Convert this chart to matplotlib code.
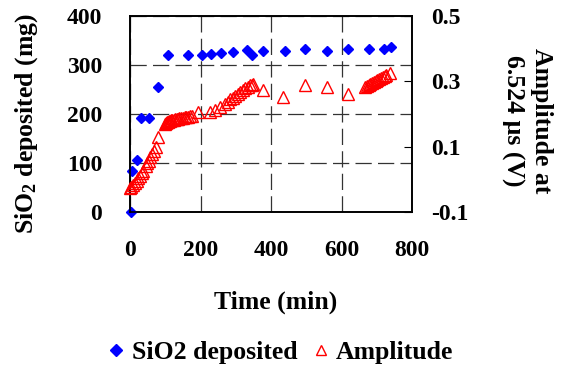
import matplotlib
matplotlib.use('Agg')
import matplotlib.pyplot as plt
from matplotlib.lines import Line2D

plt.rcParams['font.family'] = ['Liberation Serif', 'DejaVu Serif']
plt.rcParams['font.weight'] = 'bold'
plt.rcParams['mathtext.fontset'] = 'custom'
plt.rcParams['mathtext.rm'] = 'Liberation Serif:bold'
plt.rcParams['mathtext.it'] = 'Liberation Serif:bold'

# SiO2 deposited (left axis)
t_sio2 = [2, 6, 19, 31, 53, 79, 107, 164, 203, 230, 258, 291, 331, 347, 378,
          441, 496, 560, 619, 679, 721, 740]
sio2 = [0, 84, 106, 192, 192, 256, 321, 321, 321, 322, 325, 327, 330, 320, 329,
        329, 332, 328, 332, 332, 332, 336]

# Amplitude at 6.524 us (right axis)
t_amp = [0, 4, 9, 14, 19, 24, 28, 33, 38, 44, 49, 54, 58, 63, 68, 73, 80,
         99, 102, 105, 108, 111, 114, 117, 120, 124, 128, 132, 136, 140, 145,
         150, 155, 160, 165, 170, 175,
         194, 227, 241, 255, 270, 278, 285, 292, 299, 306, 313, 320, 327, 334,
         340, 345, 350,
         378, 435, 496, 560, 619,
         667, 672, 677, 682, 687, 692, 697, 702, 707, 712, 717, 722, 727, 738]
amp = [-0.027, -0.022, -0.017, -0.011, -0.005, 0.003, 0.011, 0.018, 0.026,
       0.042, 0.050, 0.057, 0.067, 0.078, 0.088, 0.098, 0.129,
       0.170, 0.172, 0.174, 0.176, 0.178, 0.180, 0.181, 0.182, 0.183, 0.184,
       0.185, 0.186, 0.187, 0.188, 0.189, 0.190, 0.191, 0.192, 0.193, 0.195,
       0.205, 0.207, 0.213, 0.221, 0.231, 0.238, 0.245, 0.250, 0.256, 0.262,
       0.268, 0.274, 0.279, 0.284, 0.288, 0.289, 0.291,
       0.272, 0.252, 0.288, 0.282, 0.262,
       0.282, 0.286, 0.290, 0.293, 0.296, 0.299, 0.302, 0.305, 0.308, 0.311,
       0.314, 0.317, 0.319, 0.327]

x_ticks = [0, 200, 400, 600, 800]
left_ticks = [0, 100, 200, 300, 400]
right_ticks = [-0.1, 0.1, 0.3, 0.5]

TICK_FS = 17
LABEL_FS = 18.5

fig = plt.figure(figsize=(5.62, 3.67), dpi=100)
ax = fig.add_axes([130 / 562, 1 - 212 / 367, 282 / 562, 196 / 367])
ax2 = ax.twinx()

ax.set_xlim(0, 800)
ax.set_ylim(0, 400)
ax.set_xticks(x_ticks)
ax.set_yticks(left_ticks)
ax.grid(True, color='#333333', linestyle=(0, (13, 5)), linewidth=0.9)
ax.tick_params(axis='both', length=0, labelsize=TICK_FS)
ax.tick_params(axis='y', pad=20)
ax.tick_params(axis='x', pad=20)

ax2.set_ylim(-0.1, 0.5)
ax2.set_yticks(right_ticks)
ax2.set_yticklabels(['-0.1', '0.1', '0.3', '0.5'])
ax2.tick_params(axis='y', direction='in', length=6, labelsize=TICK_FS, pad=14)

for a in (ax, ax2):
    for s in a.spines.values():
        s.set_linewidth(1.2)

ax.plot(t_sio2, sio2, linestyle='none', marker='D', markersize=5.5,
        color='#0000FF', clip_on=False, zorder=5)
ax2.plot(t_amp, amp, linestyle='none', marker='^', markersize=8,
         markerfacecolor='none', markeredgecolor='#FF0000', markeredgewidth=1.0,
         clip_on=False, zorder=4)

# axis titles placed where the original puts them
fig.text(276 / 562, 1 - 302 / 367, 'Time (min)', fontsize=LABEL_FS,
         fontweight='bold', ha='center', va='center')
fig.text(27 / 562, 1 - 124 / 367, r'SiO$_2$ deposited (mg)', fontsize=LABEL_FS,
         fontweight='bold', rotation=90, ha='center', va='center')
fig.text(527 / 562, 1 - 121 / 367, 'Amplitude at\n6.524 \u00b5s (V)',
         fontsize=LABEL_FS, fontweight='bold', rotation=270, ha='center',
         va='center', multialignment='center', linespacing=1.3)

handles = [
    Line2D([], [], linestyle='none', marker='D', markersize=6, color='#0000FF'),
    Line2D([], [], linestyle='none', marker='^', markersize=7,
           markerfacecolor='none', markeredgecolor='#FF0000'),
]
fig.legend(handles, ['SiO2 deposited', 'Amplitude'], loc='center',
           bbox_to_anchor=(281 / 562, 1 - 352 / 367), ncol=2, frameon=False,
           fontsize=LABEL_FS, handlelength=0.6, handletextpad=0.3,
           columnspacing=0.6, borderpad=0.1)

fig.savefig('out.png', dpi=100)
